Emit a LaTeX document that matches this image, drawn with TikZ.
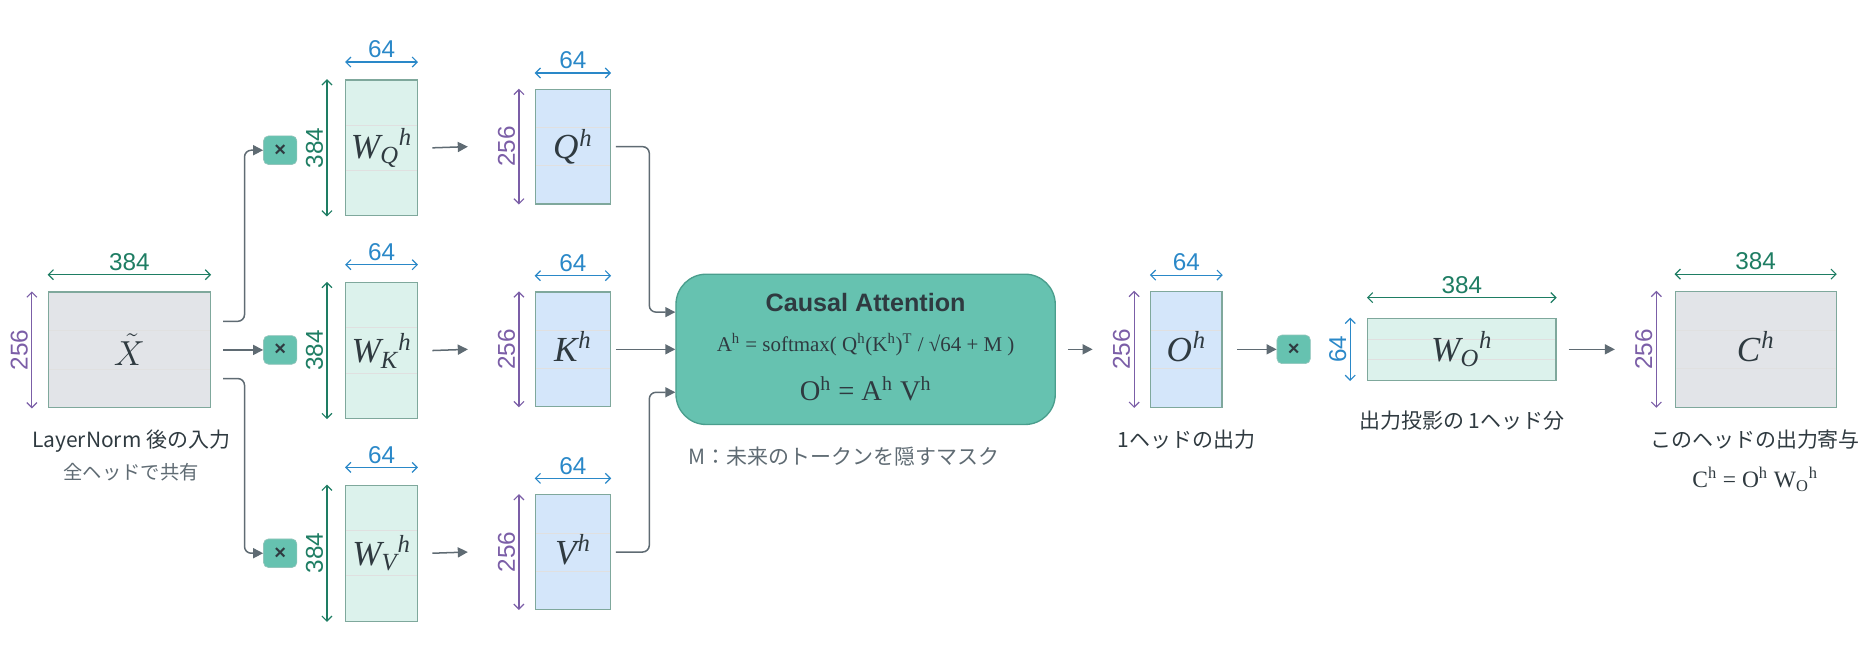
\documentclass[tikz,border=0pt]{standalone}
\usepackage{fontspec}
\setmainfont{Liberation Serif}
\setsansfont{Liberation Sans}
\newfontfamily\cjk{Noto Sans CJK JP}
\usetikzlibrary{calc,arrows.meta,positioning}
\definecolor{dimgreen}{HTML}{1E7D63}
\definecolor{dimblue}{HTML}{2A88C8}
\definecolor{dimpurple}{HTML}{7B5EA7}
\definecolor{arrgray}{HTML}{5F6B73}
\definecolor{txt}{HTML}{2F3A40}
\definecolor{teal}{HTML}{66C2B0}
\definecolor{tealdark}{HTML}{4A9E8D}
\definecolor{wfill}{HTML}{DCF2EC}
\definecolor{qfill}{HTML}{D4E6FA}
\definecolor{xfill}{HTML}{E2E4E8}
\definecolor{boxline}{HTML}{7FA89C}
\newcommand{\mlab}[3]{\textit{#1\textsubscript{#2}\textsuperscript{#3}}}
\tikzset{
  mat/.style={rectangle, draw=boxline, line width=0.8pt, inner sep=0pt, font=\fontsize{21}{22}\selectfont, text=txt,
    path picture={\draw[black!12, line width=0.5pt]
      ($(path picture bounding box.north west)!1/3!(path picture bounding box.south west)$) -- ($(path picture bounding box.north east)!1/3!(path picture bounding box.south east)$)
      ($(path picture bounding box.north west)!2/3!(path picture bounding box.south west)$) -- ($(path picture bounding box.north east)!2/3!(path picture bounding box.south east)$);}},
  wmat/.style={mat, fill=wfill, minimum width=1.5cm, minimum height=2.85cm},
  qmat/.style={mat, fill=qfill, minimum width=1.575cm, minimum height=2.4cm},
  xmat/.style={mat, fill=xfill, minimum width=3.4cm, minimum height=2.425cm},
  mul/.style={rectangle, rounded corners=3pt, fill=teal, draw=tealdark!60, minimum width=0.7cm, minimum height=0.6cm, inner sep=0pt, font=\sffamily\bfseries\large, text=txt},
  dim/.style={{Straight Barb[length=3pt,width=6pt]}-{Straight Barb[length=3pt,width=6pt]}, line width=0.7pt},
  dimlab/.style={font=\sffamily\fontsize{14.5}{15}\selectfont, inner sep=2pt},
  arr/.style={-{Triangle[length=6pt,width=6pt]}, draw=arrgray, line width=0.9pt, rounded corners=4pt},
  caption/.style={font=\cjk\fontsize{12.5}{14}\selectfont, text=txt},
}
\begin{document}
\begin{tikzpicture}[x=0.025cm, y=-0.025cm]
    \useasboundingbox (0,0) rectangle (1560,543);
    % input
    \node [xmat] (xin) at (108.5,293.5) {$\tilde{X}$};
    \node [caption] (xcap) at (110,370) {LayerNorm 後の入力};
    \node [caption, text=arrgray, font=\cjk\fontsize{11.5}{13}\selectfont] (xsub) at (110,396) {全ヘッドで共有};

    % multiply buttons
    \node [mul] (mq) at (235,126) {×};
    \node [mul] (mk) at (235,293.5) {×};
    \node [mul] (mv) at (235,464) {×};

    % weights
    \node [wmat] (wq) at (320,124) {\mlab{W}{Q}{h}};
    \node [wmat] (wk) at (320,294) {\mlab{W}{K}{h}};
    \node [wmat] (wv) at (320,464) {\mlab{W}{V}{h}};

    % projections
    \node [qmat] (q) at (480.5,123) {\mlab{Q}{}{h}};
    \node [qmat] (k) at (480.5,293) {\mlab{K}{}{h}};
    \node [qmat] (v) at (480.5,463) {\mlab{V}{}{h}};

    % attention
    \node [rectangle, rounded corners=18pt, fill=teal, draw=tealdark, line width=0.8pt, minimum width=7.95cm, minimum height=3.15cm] (att) at (726,293) {};
    \node [font=\sffamily\bfseries\fontsize{15}{16}\selectfont, text=txt] (atitle) at (726,254) {Causal Attention};
    \node [font=\fontsize{12.5}{14}\selectfont, text=txt] (aform) at (726,289) {A\textsuperscript{h} = softmax( Q\textsuperscript{h}(K\textsuperscript{h})\textsuperscript{T} / √64 + M )};
    \node [font=\fontsize{17}{18}\selectfont, text=txt] (oform) at (726,326) {O\textsuperscript{h} = A\textsuperscript{h} V\textsuperscript{h}};
    \node [caption, text=arrgray] (mcap) at (708,383) {M：未来のトークンを隠すマスク};

    % output of head
    \node [qmat, minimum width=1.5cm, minimum height=2.425cm] (o) at (995,293) {\mlab{O}{}{h}};
    \node [caption] (ocap) at (995,369) {1ヘッドの出力};
    \node [mul] (mo) at (1085,293) {×};
    \node [wmat, minimum width=3.95cm, minimum height=1.3cm] (wo) at (1226,293) {\mlab{W}{O}{h}};
    \node [caption] (wocap) at (1226,353) {出力投影の 1ヘッド分};
    \node [xmat, minimum width=3.375cm] (c) at (1472.5,293) {\mlab{C}{}{h}};
    \node [caption] (ccap) at (1472,369) {このヘッドの出力寄与};
    \node [font=\fontsize{14}{16}\selectfont, text=txt] (cform) at (1472,402) {C\textsuperscript{h} = O\textsuperscript{h} W\textsubscript{O}\textsuperscript{h}};

    % dimensions
    \draw[dim, dimgreen] ([yshift=0.35cm]xin.north west) -- node[dimlab, above] {384} ([yshift=0.35cm]xin.north east);
    \draw[dim, dimpurple] ([xshift=-0.33cm]xin.north west) -- node[dimlab, above, rotate=90] {256} ([xshift=-0.33cm]xin.south west);
    \foreach \w in {wq,wk,wv} {
      \draw[dim, dimblue] ([yshift=0.36cm]\w.north west) -- node[dimlab, above] {64} ([yshift=0.36cm]\w.north east);
      \draw[dim, dimgreen] ([xshift=-0.38cm]\w.north west) -- node[dimlab, above, rotate=90] {384} ([xshift=-0.38cm]\w.south west);
    }
    \foreach \p in {q,k,v,o} {
      \draw[dim, dimblue] ([yshift=0.33cm]\p.north west) -- node[dimlab, above] {64} ([yshift=0.33cm]\p.north east);
      \draw[dim, dimpurple] ([xshift=-0.33cm]\p.north west) -- node[dimlab, above, rotate=90] {256} ([xshift=-0.33cm]\p.south west);
    }
    \draw[dim, dimgreen] ([yshift=0.42cm]wo.north west) -- node[dimlab, above] {384} ([yshift=0.42cm]wo.north east);
    \draw[dim, dimblue] ([xshift=-0.35cm]wo.north west) -- node[dimlab, above, rotate=90] {64} ([xshift=-0.35cm]wo.south west);
    \draw[dim, dimgreen] ([yshift=0.35cm]c.north west) -- node[dimlab, above] {384} ([yshift=0.35cm]c.north east);
    \draw[dim, dimpurple] ([xshift=-0.38cm]c.north west) -- node[dimlab, above, rotate=90] {256} ([xshift=-0.38cm]c.south west);

    % connectors
    \draw[arr] ([xshift=0.25cm,yshift=0.6cm]xin.east) -- ++(18,0) |- (mq.west);
    \draw[arr] ([xshift=0.25cm]xin.east) -- (mk.west);
    \draw[arr] ([xshift=0.25cm,yshift=-0.6cm]xin.east) -- ++(18,0) |- (mv.west);
    \foreach \a/\b in {wq/q,wk/k,wv/v} {
      \draw[arr] ([xshift=0.3cm]\a.east) -- ([xshift=-1.4cm]\b.west);
    }
    \draw[arr] ([xshift=0.1cm]q.east) -- ++(28,0) |- ([yshift=0.78cm]att.west);
    \draw[arr] ([xshift=0.1cm]k.east) -- (att.west);
    \draw[arr] ([xshift=0.1cm]v.east) -- ++(28,0) |- ([yshift=-0.9cm]att.west);
    \draw[arr] ([xshift=0.25cm]att.east) -- ([xshift=-1.2cm]o.west);
    \draw[arr] ([xshift=0.3cm]o.east) -- (mo.west);
    \draw[arr] ([xshift=0.25cm]wo.east) -- ([xshift=-1.25cm]c.west);
\end{tikzpicture}
\end{document}
